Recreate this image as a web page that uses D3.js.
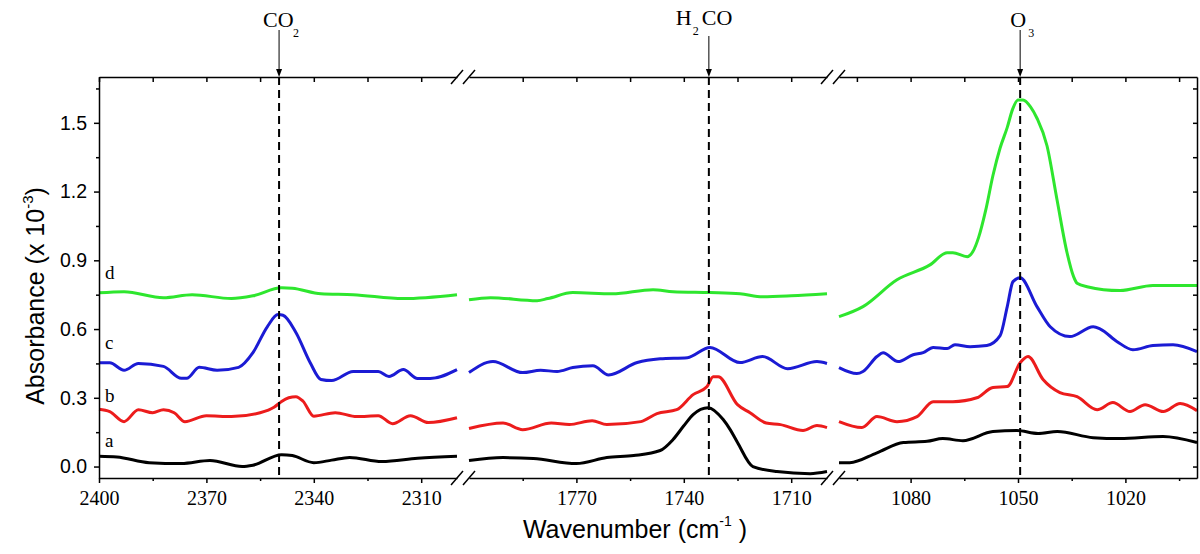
<!DOCTYPE html>
<html>
<head>
<meta charset="utf-8">
<script src="https://cdn.jsdelivr.net/npm/d3@7"></script>
<style>
  body { margin: 0; background: #fff; }
  .sans { font-family: "Liberation Sans", Arial, sans-serif; }
  .serif { font-family: "Liberation Serif", "Times New Roman", serif; }
</style>
</head>
<body>
<svg width="1200" height="554"></svg>
<script>
// --- data: [wavenumber, absorbance x 1e-3] ---
// panel 1 : CO2 region
const aCO2 = [[2400,.045],[2395,.042],[2386,.017],[2377,.013],[2369,.026],[2360,0],[2357,.006],[2349,.052],[2346,.048],[2340,.017],[2335,.028],[2330,.04],[2321,.022],[2311,.036],[2300,.045]];
const bCO2 = [[2400,.25],[2397,.24],[2393,.196],[2389,.248],[2385,.235],[2382,.248],[2379,.235],[2376,.196],[2370,.222],[2363,.218],[2355,.235],[2351,.26],[2349,.284],[2347,.30],[2345,.305],[2343,.285],[2340,.22],[2334,.235],[2328,.218],[2322,.222],[2318,.187],[2313,.222],[2308,.192],[2300,.213]];
const cCO2 = [[2400,.453],[2397,.453],[2393,.42],[2389,.45],[2382,.437],[2377,.385],[2375.5,.385],[2372,.433],[2367,.42],[2361,.433],[2357,.497],[2353,.61],[2350,.663],[2348.6,.66],[2345,.585],[2341,.453],[2338,.38],[2335,.375],[2329,.415],[2322,.415],[2319,.393],[2315,.423],[2311,.384],[2307.5,.384],[2300,.423]];
const dCO2 = [[2400,.758],[2393,.763],[2382,.737],[2374,.75],[2363,.733],[2357,.745],[2349,.78],[2346,.778],[2338,.754],[2329,.75],[2315,.733],[2300,.75]];

// panel 2 : H2CO region
const aH2CO = [[1800,.026],[1790.5,.039],[1782,.035],[1770,.013],[1761.5,.039],[1754,.048],[1746.6,.07],[1743,.118],[1740,.178],[1737.4,.227],[1733.2,.257],[1729,.205],[1727,.16],[1725,.105],[1720.7,0],[1714,-.022],[1704.7,-.031],[1700,-.022]];
const bH2CO = [[1800,.166],[1790.5,.19],[1785,.161],[1777,.19],[1772,.183],[1765.6,.2],[1761.5,.183],[1752,.196],[1747.5,.231],[1742,.248],[1737.4,.314],[1733.5,.349],[1731.8,.392],[1730.4,.392],[1725,.27],[1721.5,.235],[1717,.19],[1713,.183],[1706.7,.157],[1702.8,.179],[1700,.17]];
const cH2CO = [[1800,.41],[1793.3,.458],[1785,.41],[1780,.42],[1775.4,.415],[1771,.432],[1765.4,.44],[1761,.40],[1753,.454],[1746.6,.47],[1739,.475],[1732.7,.52],[1724.3,.454],[1718,.48],[1711,.427],[1702.8,.458],[1700,.45]];
const dH2CO = [[1800,.728],[1794,.737],[1781,.724],[1778,.733],[1771,.759],[1760,.754],[1748.6,.772],[1743,.763],[1732.7,.759],[1724.3,.754],[1718,.741],[1710,.745],[1700,.754]];

// panel 3 : O3 region
const aO3 = [[1100,.017],[1097,.017],[1089.4,.06],[1082,.105],[1075.4,.11],[1071,.122],[1065.4,.113],[1057,.153],[1050.3,.157],[1044.4,.144],[1039,.153],[1029,.126],[1021.5,.122],[1009.5,.131],[1000,.105]];
const bO3 = [[1100,.196],[1093.6,.17],[1089.4,.218],[1083.8,.196],[1078.2,.218],[1073.7,.283],[1068.2,.283],[1061.5,.30],[1057,.345],[1053,.349],[1049.4,.453],[1047.2,.48],[1043,.38],[1038.3,.323],[1033.5,.305],[1027.9,.248],[1023.5,.279],[1018.7,.24],[1014.5,.27],[1009.4,.24],[1004.7,.275],[1000,.244]];
const cO3 = [[1100,.432],[1095,.406],[1093.3,.415],[1089.4,.48],[1087.7,.497],[1083.5,.458],[1079.3,.488],[1076.5,.497],[1073.7,.52],[1069.8,.515],[1067.6,.532],[1063.4,.523],[1058.7,.528],[1055,.571],[1053,.698],[1051.4,.807],[1049.4,.824],[1044.7,.698],[1041,.61],[1035.5,.567],[1029,.61],[1027,.60],[1022.3,.545],[1017.9,.51],[1012.3,.528],[1006.7,.532],[1000,.502]];
const dO3 = [[1100,.654],[1093.3,.698],[1083.8,.815],[1074.6,.88],[1069.8,.933],[1068.2,.933],[1064.2,.916],[1062.6,.938],[1061,1.0],[1059,1.12],[1057,1.27],[1055,1.39],[1053,1.48],[1051.5,1.56],[1050,1.60],[1048.6,1.60],[1046.5,1.57],[1044.7,1.52],[1041.9,1.40],[1039.1,1.164],[1036.3,.933],[1034.5,.83],[1033.5,.80],[1030.7,.785],[1021.5,.768],[1012.3,.79],[1000,.79]];

// axis ranges and ticks
const domains = [[2400, 2300], [1800, 1700], [1100, 1000]];
const majorTicks = [[2400, 2370, 2340, 2310], [1770, 1740, 1710], [1080, 1050, 1020]];
const minorTicks = [[2385, 2355, 2325], [1785, 1755, 1725], [1095, 1065, 1035, 1005]];
const yMajor = [0, .3, .6, .9, 1.2, 1.5];
const yMinor = [.15, .45, .75, 1.05, 1.35, 1.65];

// band markers
const markerPos = [2349.7, 1733, 1049.4];
const markerName = [['CO', '2', ''], ['H', '2', 'CO'], ['O', '3', '']];

// series labels a..d next to left axis
const seriesNames = ['a', 'b', 'c', 'd'];
const labelLevels = [.087, .283, .515, .82];
const colors = ['#000000', '#ec1c1c', '#1b1bd4', '#2ee62e'];

const svg = d3.select('svg');
const plot = { left: 99, right: 1197, top: 77, bottom: 478 };
const gap = 12;
const pw = (plot.right - plot.left - 2 * gap) / 3;

const y = d3.scaleLinear().domain([-0.05, 1.7]).range([plot.bottom, plot.top]);

const panels = domains.map((dom, i) => {
    const x0 = plot.left + i * (pw + gap);
    return {
        x: d3.scaleLinear().domain(dom).range([x0, x0 + pw]),
        major: majorTicks[i],
        minor: minorTicks[i],
        marker: markerPos[i],
        name: markerName[i]
    };
});
panels[0].series = [aCO2, bCO2, cCO2, dCO2];
panels[1].series = [aH2CO, bH2CO, cH2CO, dH2CO];
panels[2].series = [aO3, bO3, cO3, dO3];

const styleAxis = (g) => {
    g.selectAll('.domain').attr('stroke-width', 1.5);
    g.selectAll('.tick line').attr('stroke-width', 1.5);
};

// curves
panels.forEach(p => {
    const line = d3.line()
        .x(d => p.x(d[0]))
        .y(d => y(d[1]))
        .curve(d3.curveMonotoneX);

    svg.append('g').selectAll('path').data(p.series).enter().append('path')
        .attr('d', line)
        .attr('fill', 'none')
        .attr('stroke', (_d, i) => colors[i])
        .attr('stroke-width', 3)
        .attr('stroke-linejoin', 'round');
});

// axes of every panel
panels.forEach(p => {
    // bottom, major with labels
    svg.append('g')
        .attr('transform', `translate(0,${plot.bottom})`)
        .call(d3.axisBottom(p.x).tickValues(p.major).tickSize(5).tickSizeOuter(0).tickPadding(8).tickFormat(d3.format('d')))
        .call(styleAxis)
        .call(g => g.selectAll('text').attr('class', 'serif').attr('font-size', 20).attr('fill', '#000'));
    // bottom, minor
    svg.append('g')
        .attr('transform', `translate(0,${plot.bottom})`)
        .call(d3.axisBottom(p.x).tickValues(p.minor).tickSize(3).tickSizeOuter(0).tickFormat(''))
        .call(styleAxis)
        .call(g => g.select('.domain').remove());
    // top, ticks pointing inside
    svg.append('g')
        .attr('transform', `translate(0,${plot.top})`)
        .call(d3.axisBottom(p.x).tickValues(p.major.concat(p.minor)).tickSize(5).tickSizeOuter(0).tickFormat(''))
        .call(styleAxis);
});

// left axis
svg.append('g')
    .attr('transform', `translate(${plot.left},0)`)
    .call(d3.axisLeft(y).tickValues(yMajor).tickSize(5).tickSizeOuter(0).tickPadding(7).tickFormat(d3.format('.1f')))
    .call(styleAxis)
    .call(g => g.selectAll('text').attr('class', 'sans').attr('font-size', 19.5).attr('fill', '#000'));
svg.append('g')
    .attr('transform', `translate(${plot.left},0)`)
    .call(d3.axisLeft(y).tickValues(yMinor).tickSize(3).tickSizeOuter(0).tickFormat(''))
    .call(styleAxis)
    .call(g => g.select('.domain').remove());

// right axis, ticks pointing inside
svg.append('g')
    .attr('transform', `translate(${plot.right},0)`)
    .call(d3.axisRight(y).tickValues(yMajor.concat(yMinor)).tickSize(-4).tickSizeOuter(0).tickFormat(''))
    .call(styleAxis);

// break marks "//" on top and bottom axes
const breaks = [];
for (let i = 0; i < panels.length - 1; i++) {
    [panels[i].x.range()[1], panels[i + 1].x.range()[0]].forEach(bx => {
        [plot.top, plot.bottom].forEach(by => breaks.push([bx, by]));
    });
}
svg.append('g').selectAll('line').data(breaks).enter().append('line')
    .attr('x1', d => d[0] - 6).attr('y1', d => d[1] + 7)
    .attr('x2', d => d[0] + 6).attr('y2', d => d[1] - 7)
    .attr('stroke', '#000').attr('stroke-width', 1.5);

// dashed band lines, arrows and band names
panels.forEach(p => {
    const mx = p.x(p.marker);
    svg.append('line')
        .attr('x1', mx).attr('x2', mx)
        .attr('y1', plot.top).attr('y2', plot.bottom)
        .attr('stroke', '#000').attr('stroke-width', 2)
        .attr('stroke-dasharray', '8,5');

    const hasPrefix = p.name[2] !== '';
    const arrowTop = hasPrefix ? 36 : 30;
    svg.append('line')
        .attr('x1', mx).attr('x2', mx)
        .attr('y1', arrowTop).attr('y2', plot.top - 6)
        .attr('stroke', '#000').attr('stroke-width', 1);
    svg.append('path')
        .attr('d', `M${mx - 3},${plot.top - 8}L${mx + 3},${plot.top - 8}L${mx},${plot.top}Z`)
        .attr('fill', '#000');

    const t = svg.append('text').attr('class', 'serif').attr('fill', '#000');
    if (hasPrefix) {
        t.append('tspan').attr('x', mx - 33).attr('y', 25).attr('font-size', 22).text(p.name[0]);
        t.append('tspan').attr('x', mx - 16).attr('y', 35).attr('font-size', 12).text(p.name[1]);
        t.append('tspan').attr('x', mx - 7).attr('y', 25).attr('font-size', 22).text(p.name[2]);
    } else {
        const w = p.name[0].length === 2 ? 16 : 10;
        t.append('tspan').attr('x', mx - w).attr('y', 27).attr('font-size', 22).text(p.name[0]);
        t.append('tspan').attr('x', mx + (w === 16 ? 14 : 8)).attr('y', 37).attr('font-size', 12).text(p.name[1]);
    }
});

// series letters
svg.append('g').selectAll('text').data(seriesNames).enter().append('text')
    .attr('class', 'serif')
    .attr('x', panels[0].x(2398.3))
    .attr('y', (_d, i) => y(labelLevels[i]))
    .attr('font-size', 19)
    .text(d => d);

// axis titles
const yTitle = svg.append('text')
    .attr('class', 'sans')
    .attr('font-size', 25)
    .attr('text-anchor', 'middle')
    .attr('transform', 'translate(44,296) rotate(-90)');
yTitle.append('tspan').text('Absorbance (x 10');
yTitle.append('tspan').attr('font-size', 15).attr('dy', -11).text('-3');
yTitle.append('tspan').attr('dy', 11).text(')');

const xTitle = svg.append('text')
    .attr('class', 'sans')
    .attr('font-size', 25)
    .attr('text-anchor', 'middle')
    .attr('x', 635).attr('y', 538);
xTitle.append('tspan').text('Wavenumber (cm');
xTitle.append('tspan').attr('font-size', 14).attr('dy', -12).text('-1');
xTitle.append('tspan').attr('dy', 12).text(' )');
</script>
</body>
</html>
